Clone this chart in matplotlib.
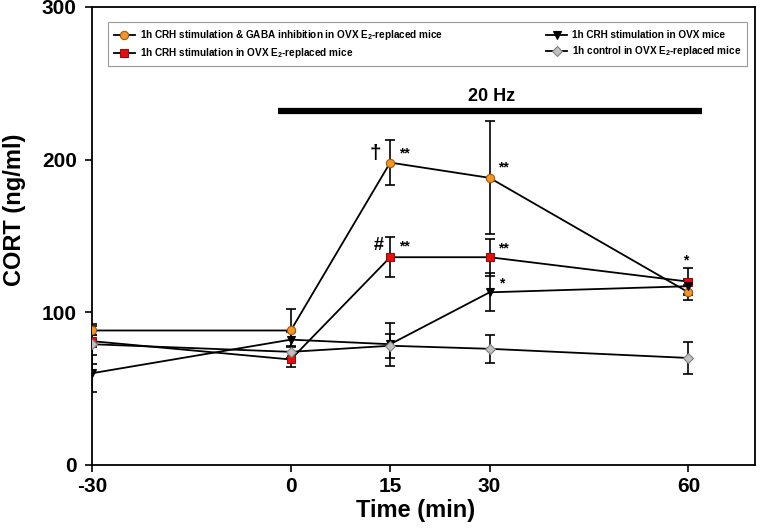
import numpy as np
import matplotlib
matplotlib.use('Agg')
import matplotlib.pyplot as plt

plt.rcParams['font.family'] = ['Liberation Sans', 'DejaVu Sans']
plt.rcParams['font.weight'] = 'bold'
plt.rcParams['mathtext.default'] = 'regular'
plt.rcParams['axes.unicode_minus'] = False

time = [-30, 0, 15, 30, 60]

gaba_mean = [88, 88, 198, 188, 113]
gaba_err = [3, 14, 14.5, 37, 5]

crh_e2_mean = [81, 69, 136, 136, 120]
crh_e2_err = [4, 5, 13, 12, 9]

crh_ovx_mean = [60, 82, 79, 113, 117]
crh_ovx_err = [12, 5, 14, 12.5, 5]

ctrl_mean = [79, 74, 78, 76, 70]
ctrl_err = [13, 4, 8, 9, 10.5]

fig = plt.figure(figsize=(7.6, 5.3), dpi=100)
ax = fig.add_axes([0.121, 0.123, 0.872, 0.864])

series = [
    (gaba_mean, gaba_err, 'o', '#f0962a', '#a05a10', 6,
     '1h CRH stimulation & GABA inhibition in OVX E$_2$-replaced mice'),
    (crh_e2_mean, crh_e2_err, 's', '#e01010', '#901010', 5.5,
     '1h CRH stimulation in OVX E$_2$-replaced mice'),
    (crh_ovx_mean, crh_ovx_err, 'v', 'black', 'black', 6,
     '1h CRH stimulation in OVX mice'),
    (ctrl_mean, ctrl_err, 'D', '#c0c0c0', '#808080', 5.5,
     '1h control in OVX E$_2$-replaced mice'),
]

handles = []
for mean, err, mk, fc, ec, ms, lab in series:
    ax.errorbar(time, mean, yerr=err, fmt='none', ecolor='black',
                elinewidth=1.2, capsize=3.5, capthick=1.2, zorder=2)
    ln, = ax.plot(time, mean, '-', color='black', lw=1.3, marker=mk,
                  mfc=fc, mec=ec, ms=ms, mew=0.8, label=lab, zorder=3)
    handles.append(ln)

# stimulation bar
ax.plot([-2, 62], [232, 232], color='black', lw=4.5, solid_capstyle='butt')
ax.text(30.3, 235.5, '20 Hz', ha='center', va='bottom', fontsize=13, fontweight='bold')

# significance marks
ax.text(12.7, 204, '†', ha='center', va='center', fontsize=15, fontweight='bold')
ax.text(16.3, 204, '**', ha='left', va='center', fontsize=10, fontweight='bold')
ax.text(31.2, 195, '**', ha='left', va='center', fontsize=10, fontweight='bold')
ax.text(13.2, 144, '#', ha='center', va='center', fontsize=13, fontweight='bold')
ax.text(16.3, 143, '**', ha='left', va='center', fontsize=10, fontweight='bold')
ax.text(31.2, 142, '**', ha='left', va='center', fontsize=10, fontweight='bold')
ax.text(31.4, 119, '*', ha='left', va='center', fontsize=10, fontweight='bold')
ax.text(59.6, 134, '*', ha='center', va='center', fontsize=10, fontweight='bold')

ax.set_xlim(-30, 70)
ax.set_ylim(0, 300)
ax.set_xticks(time)
ax.set_yticks([0, 100, 200, 300])
ax.tick_params(direction='out', length=5, width=1.2, labelsize=15)
ax.tick_params(axis='y', pad=6)
ax.tick_params(axis='x', pad=4)
for lab in ax.get_xticklabels() + ax.get_yticklabels():
    lab.set_fontweight('bold')
for s in ax.spines.values():
    s.set_linewidth(1.3)

ax.set_xlabel('Time (min)', fontsize=17, fontweight='bold')
ax.set_ylabel('CORT (ng/ml)', fontsize=17, fontweight='bold')
ax.xaxis.set_label_coords(0.489, -0.074)
ax.yaxis.set_label_coords(-0.10, 0.557)

leg = ax.legend(handles=handles, ncol=2, loc='upper left',
                bbox_to_anchor=(0.024, 0.967), frameon=True, fancybox=False,
                edgecolor='#808080', handlelength=2.1, handletextpad=0.5,
                borderpad=0.6, borderaxespad=0, labelspacing=0.4,
                columnspacing=10.3, prop={'weight': 'bold', 'size': 7.2})
leg.get_frame().set_linewidth(0.8)

fig.savefig('out.png', dpi=100)
